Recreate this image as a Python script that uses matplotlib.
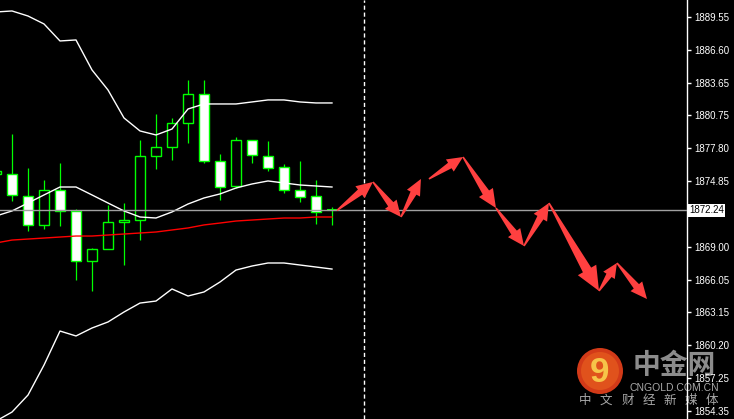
import numpy as np
import matplotlib.pyplot as plt
from matplotlib.patches import Polygon, Circle

plt.rcParams['font.family'] = ['Liberation Sans', 'DejaVu Sans']
plt.rcParams['lines.scale_dashes'] = False

# candles (bar -1 is cut by the left edge)
bars = list(range(-1, 21))
opens = [1875.49, 1875.49, 1873.53, 1870.94, 1874.06, 1872.19, 1867.72, 1868.79, 1871.20, 1871.38, 1877.10,
         1877.91, 1880.05, 1882.64, 1876.65, 1874.42, 1878.53, 1877.10, 1876.12, 1874.06, 1873.53, 1872.24]
highs = [1875.76, 1879.07, 1876.03, 1874.96, 1876.48, 1872.36, 1868.88, 1872.72, 1872.90, 1878.53, 1880.85,
         1880.50, 1883.89, 1883.89, 1877.28, 1878.80, 1878.53, 1878.44, 1876.39, 1876.65, 1874.96, 1872.54]
lows = [1875.49, 1873.08, 1870.40, 1870.58, 1870.85, 1866.02, 1865.04, 1868.79, 1867.36, 1869.59, 1875.94,
        1876.74, 1878.26, 1876.48, 1873.17, 1874.24, 1876.48, 1875.76, 1873.79, 1872.99, 1871.02, 1870.94]
closes = [1875.76, 1873.62, 1870.94, 1874.06, 1872.19, 1867.72, 1868.79, 1871.20, 1871.38, 1877.10, 1877.91,
          1880.05, 1882.64, 1876.65, 1874.33, 1878.53, 1877.19, 1876.03, 1874.06, 1873.44, 1872.10, 1872.24]

# bollinger bands and moving average
bb_upper = [1889.97, 1890.06, 1889.61, 1888.90, 1887.38, 1887.47, 1884.79, 1883.00, 1880.50, 1879.34, 1878.98,
            1879.51, 1881.30, 1881.75, 1881.75, 1881.75, 1881.93, 1882.11, 1882.11, 1881.93, 1881.84, 1881.84]
bb_mid = [1871.74, 1872.19, 1872.90, 1873.62, 1874.33, 1874.33, 1873.62, 1872.90, 1872.19, 1871.65, 1871.56,
          1872.10, 1872.81, 1873.35, 1873.71, 1874.24, 1874.60, 1874.87, 1874.69, 1874.51, 1874.42, 1874.33]
bb_lower = [1853.42, 1854.22, 1855.74, 1858.42, 1861.46, 1861.02, 1861.73, 1862.27, 1863.16, 1863.96, 1864.14,
            1865.22, 1864.59, 1864.95, 1865.84, 1866.91, 1867.27, 1867.54, 1867.54, 1867.36, 1867.18, 1867.00]
ma_red = [1869.33, 1869.59, 1869.68, 1869.77, 1869.86, 1869.95, 1869.95, 1870.04, 1870.13, 1870.22, 1870.31,
          1870.49, 1870.67, 1870.94, 1871.11, 1871.29, 1871.38, 1871.47, 1871.56, 1871.56, 1871.65, 1871.65]

# forecast path drawn as arrows (two legs)
leg1_x = [20.31, 22.56, 24.31, 25.56]
leg1_y = [1872.24, 1874.78, 1871.65, 1875.05]
leg2_x = [26.06, 28.19, 30.25, 32.0, 33.56, 36.69, 37.81, 39.69]
leg2_y = [1875.05, 1877.01, 1872.45, 1869.06, 1872.90, 1865.04, 1867.54, 1864.32]

current_price = 1872.24
now_bar = 22
yticks = [1889.55, 1886.60, 1883.65, 1880.75, 1877.80, 1874.85, 1869.00, 1866.05, 1863.15, 1860.20, 1857.25, 1854.35]

W, H = 734, 419
fig = plt.figure(figsize=(W / 100, H / 100), dpi=100, facecolor='black')
ax = fig.add_axes([0, 0, 687 / W, 1])
ax.set_facecolor('none')
ax.set_xlim(-0.75, 42.19)
ax.set_ylim(1853.60, 1891.04)

# candles
for b, o, h, l, c in zip(bars, opens, highs, lows, closes):
    ax.vlines(b, l, h, color='#00ff00', lw=0.9, zorder=2)
    if c == o:
        ax.hlines(c, b - 0.32, b + 0.32, color='#00ff00', lw=1.5, zorder=2)
        continue
    fill = 'white' if c < o else 'black'
    ax.bar(b, abs(c - o), bottom=min(o, c), width=0.62, facecolor=fill,
           edgecolor='#00ff00', linewidth=1, zorder=2)

ax.plot(bars, bb_upper, color='white', lw=1, zorder=3)
ax.plot(bars, bb_mid, color='white', lw=1, zorder=3)
ax.plot(bars, bb_lower, color='white', lw=1, zorder=3)
ax.plot(bars, ma_red, color='#ff0000', lw=1, zorder=3)

ax.axhline(current_price, color='#a0a0a0', lw=1, zorder=4)
ax.axvline(now_bar, color='white', lw=1, dashes=(3, 2), zorder=4)


def arrow(x0, y0, x1, y1):
    # tapered arrow built in pixel space, then mapped back to data
    t = ax.transData.transform([(x0, y0), (x1, y1)])
    p0, p1 = t[0], t[1]
    d = p1 - p0
    L = np.hypot(*d)
    u = d / L
    n = np.array([-u[1], u[0]])
    hl = 10 + 0.14 * L
    hw = 10 + 0.11 * L
    sw = 0.45 * hw
    base = p1 - u * hl
    pts = [p0 + n * 0.8, base + n * sw / 2, base + n * hw / 2, p1,
           base - n * hw / 2, base - n * sw / 2, p0 - n * 0.8]
    pts = ax.transData.inverted().transform(pts)
    ax.add_patch(Polygon(pts, closed=True, facecolor='#ff4040', edgecolor='none', zorder=5))


for xs, ys in [(leg1_x, leg1_y), (leg2_x, leg2_y)]:
    for k in range(len(xs) - 1):
        arrow(xs[k], ys[k], xs[k + 1], ys[k + 1])

# right price axis
for s in ['top', 'left', 'bottom']:
    ax.spines[s].set_visible(False)
ax.spines['right'].set_color('white')
ax.spines['right'].set_linewidth(1)
ax.xaxis.set_visible(False)
ax.yaxis.tick_right()
ax.set_yticks(yticks)
ax.set_yticklabels(['%.2f' % v for v in yticks])
ax.tick_params(axis='y', colors='white', labelcolor='white', length=3, width=1,
               direction='out', labelsize=7, pad=2)

ax.text(1.003, current_price, '%.2f' % current_price, transform=ax.get_yaxis_transform(),
        ha='left', va='center', fontsize=7, color='black', zorder=6,
        bbox=dict(boxstyle='square,pad=0.15', facecolor='white', edgecolor='none'))

# watermark logo (pixel positions measured from the top-left)
fig.patches.append(Circle((600, H - 371), 23, transform=None, facecolor='#d23a18',
                          edgecolor='none', zorder=-2))
fig.patches.append(Circle((600, H - 371), 19, transform=None, facecolor='#e0521c',
                          edgecolor='none', zorder=-2))
fig.text(599 / W, 1 - 372 / H, '9', color='#f6c449', fontsize=25, fontweight='bold',
         ha='center', va='center', zorder=-1)
fig.text(674 / W, 1 - 366 / H, '中金网', color='#8c8c8c', fontsize=20, fontweight='bold',
         family=['Noto Sans CJK SC', 'DejaVu Sans'], ha='center', va='center', zorder=-1)
fig.text(674 / W, 1 - 388 / H, 'CNGOLD.COM.CN', color='#a8a8a8', fontsize=7.5,
         ha='center', va='center', zorder=-1)
for k, ch in enumerate('中文财经新媒体'):
    fig.text((585 + 21.2 * k) / W, 1 - 400 / H, ch, color='#a8a8a8', fontsize=9,
             family=['Noto Sans CJK SC', 'DejaVu Sans'], ha='center', va='center', zorder=-1)

fig.savefig('out.png', dpi=100, facecolor='black')
